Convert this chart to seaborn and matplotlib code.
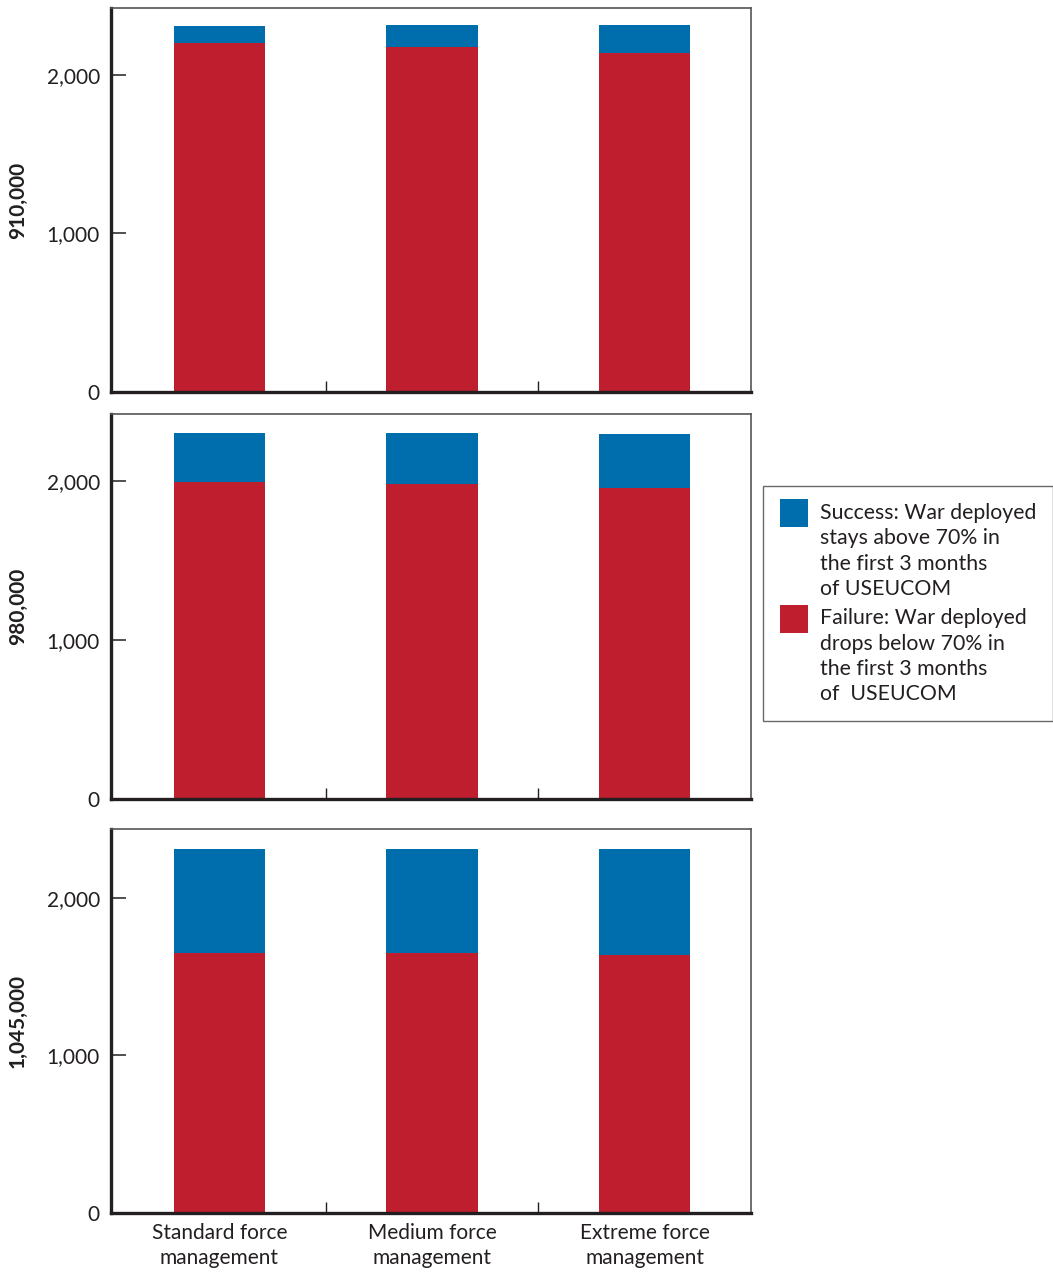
import pandas as pd
import seaborn as sns
import matplotlib.pyplot as plt
from matplotlib.patches import Rectangle
from matplotlib.legend_handler import HandlerPatch
from matplotlib.ticker import FixedLocator, FuncFormatter

# Data
categories = ["Standard force\nmanagement", "Medium force\nmanagement", "Extreme force\nmanagement"]
panel_labels = ["910,000", "980,000", "1,045,000"]
failure_910 = [2198, 2173, 2137]
success_910 = [109, 140, 176]
failure_980 = [1994, 1977, 1954]
success_980 = [307, 324, 341]
failure_1045 = [1651, 1651, 1638]
success_1045 = [660, 660, 673]
y_ticks = [0, 1000, 2000]

success_label = "Success: War deployed\nstays above 70% in\nthe first 3 months\nof USEUCOM"
failure_label = "Failure: War deployed\ndrops below 70% in\nthe first 3 months\nof  USEUCOM"

blue = "#006dad"
red = "#be1e2d"
ink = "#231f20"
fs = 15

sns.set_theme(style="white")
plt.rcParams['font.family'] = ['Lato', 'DejaVu Sans']
plt.rcParams['text.color'] = ink

fig = plt.figure(figsize=(10.53, 12.73), dpi=100)
W, H = 1053, 1273

panels = [
    (failure_910, success_910, 8, 392),
    (failure_980, success_980, 414, 799),
    (failure_1045, success_1045, 829, 1213),
]

for i, (fail, succ, top_px, bot_px) in enumerate(panels):
    ax = fig.add_axes([111 / W, 1 - bot_px / H, 640 / W, (bot_px - top_px) / H])
    df = pd.DataFrame({
        "scenario": categories,
        "failure": fail,
        "total": [f + s for f, s in zip(fail, succ)],
    })
    sns.barplot(data=df, x="scenario", y="total", color=blue, saturation=1,
                width=0.43, linewidth=0, ax=ax)
    sns.barplot(data=df, x="scenario", y="failure", color=red, saturation=1,
                width=0.43, linewidth=0, ax=ax)
    ax.set_xlim(-0.51, 2.5)
    ax.set_ylim(0, 2420 if i < 2 else 2435)

    # spines: heavy left/bottom, light top/right
    for side in ["left", "bottom"]:
        ax.spines[side].set_linewidth(2.4)
        ax.spines[side].set_color(ink)
    for side in ["top", "right"]:
        ax.spines[side].set_linewidth(1.2)
        ax.spines[side].set_color("#555555")
    ax.spines["top"].set_visible(True)
    ax.spines["right"].set_visible(True)

    ax.set_yticks(y_ticks)
    ax.yaxis.set_major_formatter(FuncFormatter(lambda v, p: f"{int(v):,}"))
    ax.tick_params(axis="y", direction="in", length=11, width=1.1, color=ink,
                   labelsize=fs, labelcolor=ink, pad=8, left=True)
    ax.xaxis.set_minor_locator(FixedLocator([0.5, 1.5]))
    ax.tick_params(axis="x", which="minor", direction="in", length=8, width=1,
                   color=ink, bottom=True)
    ax.tick_params(axis="x", which="major", length=0, labelsize=fs,
                   labelcolor=ink, pad=7)
    if i < 2:
        ax.set_xticklabels([])
    else:
        for t in ax.get_xticklabels():
            t.set_linespacing(1.3)
    ax.set_xlabel("")
    ax.set_ylabel(panel_labels[i], fontsize=fs, fontweight="bold", color=ink)
    ax.yaxis.set_label_coords(-0.13, 0.5)
    ax.grid(False)


def top_square(legend, orig_handle, xdescent, ydescent, width, height, fontsize):
    side = width
    return Rectangle((-xdescent, 2.8 * fontsize - side), width, side)


handles = [Rectangle((0, 0), 1, 1, facecolor=blue, edgecolor="none"),
           Rectangle((0, 0), 1, 1, facecolor=red, edgecolor="none")]
leg = fig.legend(handles, [success_label, failure_label],
                 handler_map={Rectangle: HandlerPatch(patch_func=top_square)},
                 loc="upper left", bbox_to_anchor=(763 / W, 1 - 486 / H),
                 fontsize=15.3, frameon=True, fancybox=False, shadow=False,
                 borderpad=0.8, handlelength=1.32, handletextpad=0.55,
                 labelspacing=0.45, borderaxespad=0)
leg.get_frame().set_edgecolor("#444444")
leg.get_frame().set_linewidth(1.0)
for t in leg.get_texts():
    t.set_color(ink)
    t.set_linespacing(1.33)

plt.savefig("out.png", dpi=100)
